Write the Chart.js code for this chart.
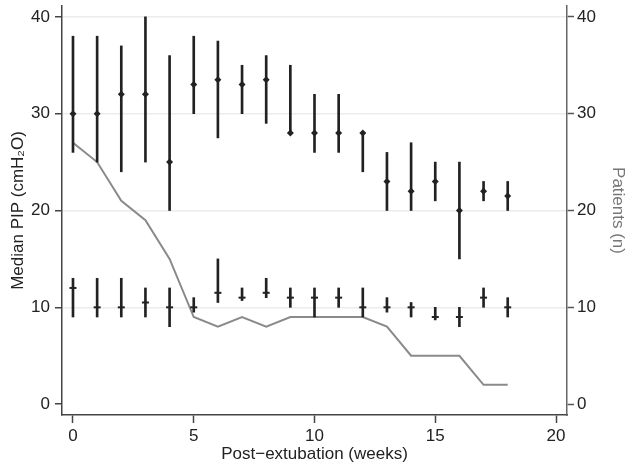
<!DOCTYPE html>
<html lang="en">
<head>
<meta charset="UTF-8">
<title>Median PIP post-extubation</title>
<script src="https://cdn.jsdelivr.net/npm/chart.js@4"></script>
<style>
  body { margin: 0; background: #fff; }
  #wrap { width: 629px; height: 467px; }
</style>
</head>
<body>
<div id="wrap"><canvas id="pipChart" width="629" height="467"></canvas></div>
<script>
// weeks after extubation
var weeks = [0, 1, 2, 3, 4, 5, 6, 7, 8, 9, 10, 11, 12, 13, 14, 15, 16, 17, 18];

// upper group: median PIP and its range
var upperMedian = [30, 30, 32, 32, 25, 33, 33.5, 33, 33.5, 28, 28, 28, 28, 23, 22, 23, 20, 22, 21.5];
var upperLow    = [26, 25, 24, 25, 20, 30, 27.5, 30, 29, 28, 26, 26, 24, 20, 20, 21, 15, 21, 20];
var upperHigh   = [38, 38, 37, 40, 36, 38, 37.5, 35, 36, 35, 32, 32, 28, 26, 27, 25, 25, 23, 23];

// lower group: median and range
var lowerMedian = [12, 10, 10, 10.5, 10, 10, 11.5, 11, 11.5, 11, 11, 11, 10, 10, 10, 9, 9, 11, 10];
var lowerLow    = [9, 9, 9, 9, 8, 9.5, 10.5, 10.7, 11, 10, 9, 10, 9, 9.5, 9, 8.7, 8, 10, 9];
var lowerHigh   = [13, 13, 13, 12, 12, 11, 15, 12, 13, 12, 12, 12, 12, 11, 10.5, 10, 10, 12, 11];

// number of patients (right axis)
var patients = [27, 25, 21, 19, 15, 9, 8, 9, 8, 9, 9, 9, 9, 8, 5, 5, 5, 2, 2];

var xTicks = [0, 5, 10, 15, 20];
var yTicks = [0, 10, 20, 30, 40];

function pairs(xs, ys) {
  return xs.map(function (x, i) { return { x: x, y: ys[i] }; });
}
function ranges(xs, lo, hi) {
  return xs.map(function (x, i) { return { x: x, y: [lo[i], hi[i]] }; });
}

var fontFam = '"Liberation Sans", Arial, Helvetica, sans-serif';
var ink = '#222';

function fixTicks(list) {
  return function (scale) {
    scale.ticks = list.map(function (v) { return { value: v }; });
  };
}

var ctx = document.getElementById('pipChart').getContext('2d');
var chart = new Chart(ctx, {
  data: {
    datasets: [
      {
        type: 'line',
        label: 'Patients',
        data: pairs(weeks, patients),
        yAxisID: 'y2',
        borderColor: '#8a8a8a',
        borderWidth: 2,
        pointRadius: 0,
        tension: 0,
        order: 5
      },
      {
        type: 'bar',
        label: 'upper range',
        data: ranges(weeks, upperLow, upperHigh),
        yAxisID: 'y',
        backgroundColor: ink,
        barThickness: 2,
        grouped: false,
        order: 3
      },
      {
        type: 'bar',
        label: 'lower range',
        data: ranges(weeks, lowerLow, lowerHigh),
        yAxisID: 'y',
        backgroundColor: ink,
        barThickness: 2,
        grouped: false,
        order: 3
      },
      {
        type: 'scatter',
        label: 'upper median',
        data: pairs(weeks, upperMedian),
        yAxisID: 'y',
        pointStyle: 'rectRot',
        pointRadius: 3.5,
        backgroundColor: ink,
        borderColor: ink,
        borderWidth: 0,
        order: 1
      },
      {
        type: 'scatter',
        label: 'lower median',
        data: pairs(weeks, lowerMedian),
        yAxisID: 'y',
        pointStyle: 'line',
        pointRadius: 3.5,
        borderColor: ink,
        borderWidth: 2,
        order: 1
      }
    ]
  },
  options: {
    responsive: false,
    animation: false,
    devicePixelRatio: 1,
    layout: { padding: 0 },
    plugins: { legend: { display: false }, tooltip: { enabled: false } },
    scales: {
      x: {
        type: 'linear',
        position: 'bottom',
        min: -0.455,
        max: 20.455,
        offset: false,
        afterBuildTicks: fixTicks(xTicks),
        afterFit: function (s) { s.height = 52; s.paddingLeft = 0; s.paddingRight = 0; },
        grid: { offset: false, drawOnChartArea: false, tickLength: 8, tickColor: '#444', tickWidth: 1.5 },
        border: { color: '#444', width: 1.5 },
        ticks: { color: ink, padding: 3, maxRotation: 0, font: { family: fontFam, size: 17 } },
        title: {
          display: true, text: 'Post\u2212extubation (weeks)', color: ink,
          padding: { top: 0, bottom: 2 }, font: { family: fontFam, size: 17 }
        }
      },
      y: {
        type: 'linear',
        position: 'left',
        min: -1.12,
        max: 41.12,
        afterBuildTicks: fixTicks(yTicks),
        afterFit: function (s) { s.width = 62; s.paddingTop = 0; s.paddingBottom = 0; },
        grid: {
          color: function (c) { return c.tick && c.tick.value === 0 ? 'rgba(0,0,0,0)' : '#ececec'; },
          lineWidth: 1.5,
          tickColor: '#444',
          tickWidth: 1.5,
          tickLength: 7
        },
        border: { color: '#444', width: 1.5 },
        ticks: { color: ink, padding: 5, font: { family: fontFam, size: 17 } },
        title: {
          display: true, text: 'Median PIP (cmH\u2082O)', color: ink,
          padding: { top: 8, bottom: 0 }, font: { family: fontFam, size: 17 }
        }
      },
      y2: {
        type: 'linear',
        position: 'right',
        min: -1.12,
        max: 41.12,
        afterBuildTicks: fixTicks(yTicks),
        afterFit: function (s) { s.width = 62; s.paddingTop = 0; s.paddingBottom = 0; },
        grid: { drawOnChartArea: false, tickColor: '#555', tickWidth: 1.5, tickLength: 7 },
        border: { color: '#666', width: 1.5 },
        ticks: { color: ink, padding: 3, font: { family: fontFam, size: 17 } },
        title: {
          display: true, text: 'Patients (n)', color: '#777',
          padding: { top: 1, bottom: 0 }, font: { family: fontFam, size: 17 }
        }
      }
    }
  }
});
</script>
</body>
</html>
